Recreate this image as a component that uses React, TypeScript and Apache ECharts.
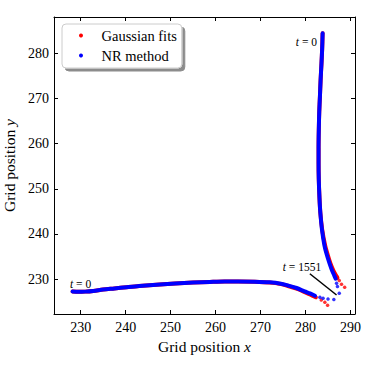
import React, { useEffect, useRef } from "react";
import * as echarts from "echarts";

const FONT = "Liberation Serif";

// Axis ranges and ticks
const X_MIN = 224.07;
const X_MAX = 291;
const Y_MIN = 222.3;
const Y_MAX = 288;
const TICK_STEP = 10;

// NR method (blue) – trajectory starting bottom-left, dense part
const nrBottom: [number, number][] = [
  [228.2, 227.3], [229.5, 227.2], [231, 227.25], [232.8, 227.4], [235, 227.7],
  [237.5, 227.95], [240.2, 228.23], [243, 228.5], [247.6, 228.85], [251, 229.05],
  [255, 229.25], [258.7, 229.4], [262, 229.5], [265, 229.5], [268.7, 229.45],
  [272, 229.3], [274.5, 229.0], [276.1, 228.6], [278, 228.05], [279.8, 227.3],
  [281, 226.85], [282.1, 226.35],
];
// NR method – sparse final points of the bottom trajectory
const nrBottomEnd: [number, number][] = [
  [283.2, 226.0], [283.9, 225.8], [285.0, 225.6], [286.3, 225.5],
];
// NR method – trajectory starting top-right, dense part
const nrRight: [number, number][] = [
  [283.8, 284.4], [283.7, 281], [283.55, 277.8], [283.35, 274], [283.2, 270.4],
  [283.05, 267], [282.95, 263], [282.9, 259], [282.9, 255.7], [282.95, 252],
  [283.1, 248], [283.3, 244.6], [283.65, 241], [284.2, 237.5], [284.7, 235.5],
  [285.3, 233.6], [285.9, 231.9], [286.4, 230.8], [286.7, 230.1],
];
const nrRightEnd: [number, number][] = [
  [286.9, 229.1], [287.1, 228.4], [287.5, 226.9],
];

// Gaussian fits (red)
const gaussBottom: [number, number][] = [
  [228.2, 227.3], [229.5, 227.2], [231, 227.25], [232.8, 227.4], [235, 227.7],
  [237.5, 227.95], [240.2, 228.23], [243, 228.5], [247.6, 228.85], [251, 229.05],
  [255, 229.25], [258.7, 229.4], [262, 229.5], [265, 229.5], [268.7, 229.42],
  [272, 229.25], [274.5, 228.92], [276.1, 228.5], [278, 227.9], [279.8, 227.15],
  [281, 226.65], [282.3, 226.0],
];
const gaussBottomEnd: [number, number][] = [
  [283.5, 225.4], [284.3, 224.9], [284.9, 224.25],
];
const gaussRight: [number, number][] = [
  [283.8, 284.4], [283.7, 281], [283.55, 277.8], [283.35, 274], [283.2, 270.4],
  [283.05, 267], [282.95, 263], [282.9, 259], [282.9, 255.7], [282.95, 252],
  [283.1, 248], [283.3, 244.6], [283.7, 241], [284.35, 237.5], [284.9, 235.5],
  [285.5, 233.6], [286.2, 231.9], [286.8, 230.8], [287.1, 230.3],
];
const gaussRightEnd: [number, number][] = [
  [287.5, 229.7], [288.0, 228.9], [288.7, 228.2],
];

// Annotation arrow (data coords)
const arrowFrom: [number, number] = [280.96, 231.2];
const arrowTo: [number, number] = [286.9, 226.5];

const RED = "#ff0000";
const BLUE = "#0000ff";

function lineSeries(name: string, data: [number, number][], color: string) {
  return {
    name,
    type: "line",
    data,
    smooth: 0.3,
    showSymbol: false,
    symbol: "none",
    itemStyle: { color },
    lineStyle: { color, width: 4, cap: "round", join: "round" },
    silent: true,
  };
}

function dotSeries(name: string, data: [number, number][], color: string) {
  return {
    name,
    type: "scatter",
    data,
    symbol: "circle",
    symbolSize: 3.5,
    itemStyle: { color },
    silent: true,
  };
}

export default function App() {
  const ref = useRef<HTMLDivElement>(null);
  useEffect(() => {
    if (!ref.current) return;
    const chart = echarts.init(ref.current, undefined, { renderer: "svg" });
    const axisCommon = {
      type: "value",
      axisLine: { show: true, onZero: false, lineStyle: { color: "#000", width: 1 } },
      axisTick: { show: true, inside: true, length: 4, lineStyle: { color: "#000", width: 1 } },
      splitLine: { show: false },
      minInterval: TICK_STEP,
      maxInterval: TICK_STEP,
    };
    const labelCommon = {
      color: "#000",
      fontFamily: FONT,
      fontSize: 14,
      showMinLabel: false,
      showMaxLabel: false,
    };
    const nameStyle = {
      color: "#000",
      fontFamily: FONT,
      fontSize: 15.5,
      rich: { i: { fontStyle: "italic", fontFamily: FONT, fontSize: 15.5, color: "#000" } },
    };
    const annRich = { i: { fontStyle: "italic", fontFamily: FONT, fontSize: 11.5 } };
    const annStyle = {
      rich: annRich,
      fontFamily: FONT,
      fontSize: 11.5,
      fill: "#000",
      verticalAlign: "middle",
    };
    chart.setOption({
      animation: false,
      backgroundColor: "#fff",
      textStyle: { fontFamily: FONT },
      grid: {
        left: 54,
        right: 15,
        top: 17,
        bottom: 56,
        containLabel: false,
        outerBoundsMode: "none",
      },
      xAxis: [
        {
          ...axisCommon,
          min: X_MIN,
          max: X_MAX,
          position: "bottom",
          axisLabel: { ...labelCommon, margin: 6 },
          name: "Grid position {i|x}",
          nameLocation: "middle",
          nameGap: 19,
          nameTextStyle: nameStyle,
        },
        {
          ...axisCommon,
          min: X_MIN,
          max: X_MAX,
          position: "top",
          axisLabel: { show: false },
        },
      ],
      yAxis: [
        {
          ...axisCommon,
          min: Y_MIN,
          max: Y_MAX,
          position: "left",
          axisLabel: { ...labelCommon, margin: 5 },
          name: "Grid position {i|y}",
          nameLocation: "middle",
          nameGap: 31,
          nameTextStyle: nameStyle,
        },
        {
          ...axisCommon,
          min: Y_MIN,
          max: Y_MAX,
          position: "right",
          axisLabel: { show: false },
        },
      ],
      legend: {
        orient: "vertical",
        left: 62,
        top: 24,
        padding: [4, 5, 5, 17],
        itemWidth: 31,
        itemHeight: 4,
        itemGap: 5,
        icon: "circle",
        backgroundColor: "#fff",
        borderColor: "#cccccc",
        borderWidth: 1,
        borderRadius: 4,
        shadowColor: "rgba(0,0,0,0.45)",
        shadowOffsetX: 3,
        shadowOffsetY: 3,
        shadowBlur: 0,
        textStyle: { color: "#000", fontFamily: FONT, fontSize: 14.5 },
        data: ["Gaussian fits", "NR method"],
        selectedMode: false,
      },
      series: [
        lineSeries("Gaussian fits", gaussBottom, RED),
        lineSeries("Gaussian fits", gaussRight, RED),
        dotSeries("Gaussian fits", gaussBottomEnd, RED),
        dotSeries("Gaussian fits", gaussRightEnd, RED),
        lineSeries("NR method", nrBottom, BLUE),
        lineSeries("NR method", nrRight, BLUE),
        dotSeries("NR method", nrBottomEnd, BLUE),
        {
          ...dotSeries("NR method", nrRightEnd, BLUE),
          markLine: {
            silent: true,
            symbol: ["none", "none"],
            label: { show: false },
            lineStyle: { color: "#000", width: 1.5, type: "solid" },
            data: [[{ coord: arrowFrom }, { coord: arrowTo }]],
          },
        },
      ],
      graphic: [
        {
          type: "text",
          x: 317,
          y: 42,
          style: { ...annStyle, text: "{i|t} = 0", align: "right" },
        },
        {
          type: "text",
          x: 70,
          y: 284,
          style: { ...annStyle, text: "{i|t} = 0", align: "left" },
        },
        {
          type: "text",
          x: 302,
          y: 267,
          style: { ...annStyle, text: "{i|t} = 1551", align: "center" },
        },
      ],
    });
    return () => chart.dispose();
  }, []);
  return (
    <div
      ref={ref}
      style={{ position: "fixed", left: 0, top: 0, width: 370, height: 370 }}
    />
  );
}
